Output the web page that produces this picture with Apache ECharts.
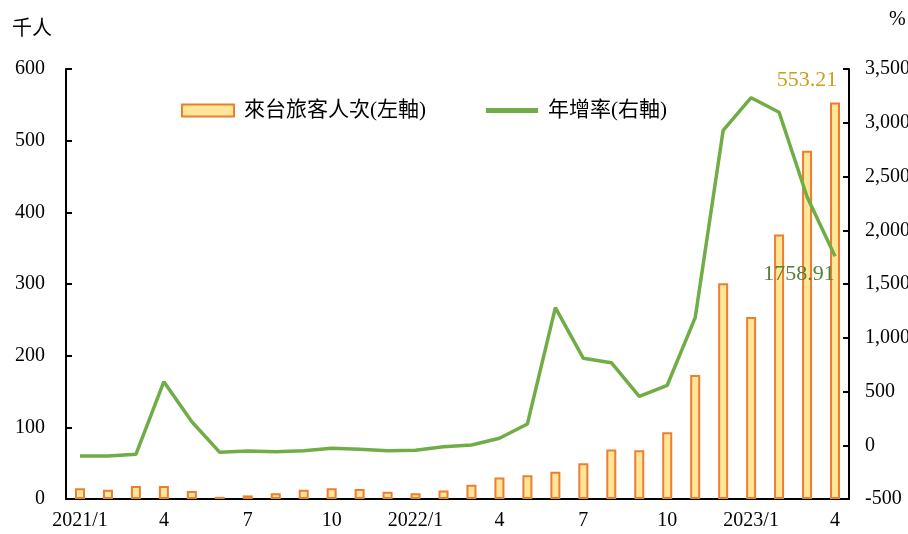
<!DOCTYPE html>
<html><head><meta charset="utf-8">
<script src="https://cdn.jsdelivr.net/npm/echarts@6/dist/echarts.min.js"></script>
<style>html,body{margin:0;padding:0;background:#fff}#c{width:908px;height:534px}</style>
</head><body><div id="c"></div>
<script>
const categories = ['2021/1','2021/2','2021/3','2021/4','2021/5','2021/6','2021/7','2021/8','2021/9','2021/10','2021/11','2021/12',
 '2022/1','2022/2','2022/3','2022/4','2022/5','2022/6','2022/7','2022/8','2022/9','2022/10','2022/11','2022/12',
 '2023/1','2023/2','2023/3','2023/4'];
const visitors = [15,13,18,18,11,3,5,8,13,15,14,10,8,12,20,30,33,38,50,69,68,93,173,301,254,369,486,553.21];
const growth = [-100,-100,-84,591,219,-66,-53,-60,-51,-28,-38,-51,-47,-13,2,65,198,1280,809,768,455,558,1187,2930,3233,3097,2312,1758.91];
const leftTicks = {min:0,max:600,interval:100};
const rightTicks = {min:-500,max:3500,interval:500};
const seriesNames = ['來台旅客人次(左軸)','年增率(右軸)'];
const unitLeft = '千人', unitRight = '%';

const serif = '"Liberation Serif","Noto Sans CJK TC",serif';
const chart = echarts.init(document.getElementById('c'));
const last = visitors.length - 1;
chart.setOption({
  animation:false,
  textStyle:{fontFamily:serif},
  grid:{left:66,right:59,top:69,bottom:35,containLabel:false,outerBoundsMode:'none'},
  legend:{left:176,top:95,itemWidth:52,itemHeight:12,itemGap:60,
    textStyle:{fontFamily:serif,fontSize:21,color:'#000',padding:[0,0,0,5]},
    data:[{name:seriesNames[0],icon:'rect'},{name:seriesNames[1],icon:'path://M0,0h10v1h-10z'}]},
  graphic:[
    {type:'text',left:12,top:20,style:{text:unitLeft,font:'20px '+serif,fill:'#000'}},
    {type:'text',left:889,top:10,style:{text:unitRight,font:'20px '+serif,fill:'#000'}}
  ],
  xAxis:{type:'category',data:categories,boundaryGap:true,
    axisLine:{lineStyle:{color:'#000',width:2}},
    axisTick:{inside:true,length:5,interval:0,lineStyle:{color:'#000',width:2}},
    axisLabel:{interval:2,color:'#000',fontSize:20,fontFamily:serif,margin:12,
      formatter:v=>{const p=v.split('/');return p[1]==='1'?v:p[1];}}},
  yAxis:[
    {type:'value',min:leftTicks.min,max:leftTicks.max,interval:leftTicks.interval,
     axisLine:{show:true,lineStyle:{color:'#000',width:2}},
     axisTick:{show:true,inside:true,length:6,lineStyle:{color:'#000',width:2}},
     splitLine:{show:false},
     axisLabel:{color:'#000',fontSize:20,fontFamily:serif,margin:21}},
    {type:'value',min:rightTicks.min,max:rightTicks.max,interval:rightTicks.interval,
     axisLine:{show:true,lineStyle:{color:'#000',width:2}},
     axisTick:{show:true,inside:true,length:6,lineStyle:{color:'#000',width:2}},
     splitLine:{show:false},
     axisLabel:{color:'#000',fontSize:20,fontFamily:serif,margin:16,
       formatter:v=>v.toLocaleString('en-US')}}
  ],
  series:[
    {name:seriesNames[0],type:'bar',yAxisIndex:0,barWidth:10,
     itemStyle:{color:'#FFE699',borderColor:'#ED7D31',borderWidth:2},
     data:visitors.map((v,i)=>i===last?{value:v,label:{show:true,position:'top',offset:[-28,-6],color:'#C9A01E',fontSize:22,fontFamily:serif,formatter:'{c}'}}:v)},
    {name:seriesNames[1],type:'line',yAxisIndex:1,symbol:'none',
     lineStyle:{color:'#70AD47',width:3.5},itemStyle:{color:'#70AD47'},
     data:growth,
     markPoint:{symbol:'circle',symbolSize:0,silent:true,
       data:[{coord:[last,growth[last]],value:growth[last],
         label:{show:true,position:'bottom',offset:[-36,2],color:'#548235',fontSize:22,fontFamily:serif,formatter:'{c}'}}]}}
  ]
});
</script></body></html>
